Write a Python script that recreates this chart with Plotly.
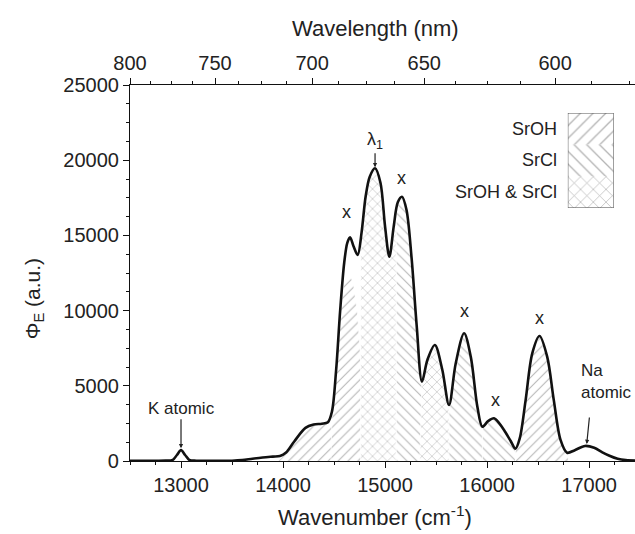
import plotly.graph_objects as go

# ---------------- data ----------------
# measured envelope spectrum
wavenumber = [12500, 12700, 12850, 12920, 12960, 13000, 13040, 13080, 13150, 13300,
              13500, 13600, 13700, 13800, 13900, 13970, 14030, 14110, 14220, 14300,
              14380, 14440, 14480, 14520, 14560, 14600, 14630, 14657, 14690, 14732,
              14770, 14810, 14850, 14902, 14955, 15000, 15042, 15085, 15125, 15166,
              15210, 15260, 15310, 15362, 15415, 15488, 15560, 15627, 15693, 15775,
              15840, 15905, 15954, 16010, 16068, 16120, 16166, 16230, 16278, 16320,
              16378, 16443, 16514, 16589, 16654, 16720, 16784, 16860, 16960, 17050,
              17130, 17200, 17280, 17360, 17450]
intensity = [20, 20, 30, 80, 400, 720, 400, 80, 20, 10,
             20, 60, 150, 230, 290, 330, 560, 1300, 2200, 2420,
             2480, 2580, 3300, 6000, 10000, 13200, 14500, 14870, 14300, 13700,
             15200, 17600, 18900, 19460, 18500, 15600, 13580, 15600, 17200, 17570,
             16700, 13500, 9000, 5270, 6720, 7710, 6100, 3720, 6500, 8490,
             6940, 3610, 2280, 2650, 2840, 2500, 2060, 1350, 820, 1500,
             4050, 7160, 8310, 6940, 4050, 1400, 550, 720, 1000, 880,
             580, 350, 150, 60, 30]

# hatched band regions (wavenumber, intensity outline), in drawing order
shoulder_wn = [13950, 14030, 14110, 14220, 14300, 14380, 14440, 14500, 14560, 14600]
shoulder_val = [0, 540, 1280, 2180, 2400, 2460, 2560, 2500, 1500, 0]
band1_wn = [14470, 14480, 14520, 14560, 14600, 14630, 14655, 14690, 14730, 14760, 14800, 14840]
band1_val = [0, 3200, 5900, 9800, 12000, 12350, 12400, 11800, 9800, 7000, 3000, 0]
band2_wn = [14760, 14760, 14810, 14850, 14902, 14955, 15000, 15042, 15085, 15110, 15110]
band2_val = [0, 14200, 17500, 18800, 19400, 18400, 15500, 13500, 15400, 16200, 0]
band3_wn = [15110, 15110, 15125, 15166, 15210, 15260, 15310, 15362, 15370]
band3_val = [0, 16200, 17150, 17520, 16650, 13450, 8950, 5250, 0]
band4_wn = [15340, 15362, 15415, 15488, 15560, 15627, 15640]
band4_val = [0, 5250, 6700, 7690, 6080, 3700, 0]
band5_wn = [15627, 15627, 15693, 15775, 15840, 15905, 15954, 15954]
band5_val = [0, 3700, 6480, 8470, 6920, 3600, 2270, 0]
band6_wn = [15954, 15954, 16010, 16068, 16120, 16166, 16230, 16278, 16278]
band6_val = [0, 2270, 2640, 2830, 2490, 2050, 1340, 810, 0]
band7_wn = [16278, 16278, 16320, 16378, 16443, 16514, 16589, 16654, 16720, 16784, 16800]
band7_val = [0, 810, 1500, 4050, 7160, 8310, 6940, 4050, 1400, 550, 0]

band_regions = [
    (shoulder_wn, shoulder_val, "/"),
    (band1_wn, band1_val, "/"),
    (band2_wn, band2_val, "x"),
    (band3_wn, band3_val, "\\"),
    (band4_wn, band4_val, "x"),
    (band5_wn, band5_val, "\\"),
    (band6_wn, band6_val, "\\"),
    (band7_wn, band7_val, "/"),
]

# peak markers
cross_wn = [14621, 15159, 15775, 16087, 16518]
cross_val = [16560, 18820, 9970, 4060, 9510]
lambda1_wn = 14902
lambda1_val = 19460
k_line_wn = 13000
k_line_val = 720
na_line_wn = 16975
na_line_val = 1000

# axis ticks
wn_ticks = [13000, 14000, 15000, 16000, 17000]
wl_ticks = [800, 750, 700, 650, 600]
wl_minor = [787.5, 775, 762.5, 737.5, 725, 712.5, 687.5, 675, 662.5,
            637.5, 625, 612.5, 587.5, 575]
y_ticks = [0, 5000, 10000, 15000, 20000, 25000]

legend_labels = ["SrOH & SrCl", "SrCl", "SrOH"]
legend_shapes = ["x", "\\", "/"]

# ---------------- figure ----------------
FONT = "Liberation Sans, Arial, sans-serif"
TXT = "#222222"
HATCH = "#6a6a6a"
HSIZE = 7
HSOLID = 0.15

fig = go.Figure()

for wn, val, shp in band_regions:
    fig.add_trace(go.Scatter(
        x=wn, y=val, mode="lines", fill="toself", fillcolor="white",
        fillpattern=dict(shape=shp, fgcolor=HATCH, bgcolor="white",
                         size=HSIZE, solidity=HSOLID),
        line=dict(width=0.8, color="rgba(255,255,255,0.9)"),
        showlegend=False, hoverinfo="skip"))

fig.add_trace(go.Scatter(
    x=wavenumber, y=intensity, mode="lines",
    line=dict(color="#111111", width=2.6, shape="spline", smoothing=0.9),
    showlegend=False, hoverinfo="skip"))

# dummy trace for top wavelength axis
fig.add_trace(go.Scatter(x=[wavenumber[0]], y=[0], xaxis="x2", yaxis="y",
                         mode="markers", marker=dict(opacity=0),
                         showlegend=False, hoverinfo="skip"))

# legend swatches on their own small axes
fig.add_trace(go.Bar(
    x=[0, 0, 0], y=[1, 1, 1], base=[0, 1, 2], width=1,
    xaxis="x3", yaxis="y3",
    marker=dict(color="white", line=dict(width=0),
                pattern=dict(shape=legend_shapes, fgcolor=HATCH, bgcolor="white",
                             size=9, solidity=HSOLID)),
    showlegend=False, hoverinfo="skip"))

axis_common = dict(showline=True, linecolor="#111111", linewidth=1.2,
                   ticks="outside", ticklen=6, tickwidth=1.1, tickcolor="#111111",
                   showgrid=False, zeroline=False,
                   tickfont=dict(family=FONT, size=20, color=TXT))

fig.update_layout(
    width=635, height=534,
    margin=dict(l=130, r=0, t=85, b=73),
    paper_bgcolor="white", plot_bgcolor="white",
    barmode="overlay",
    xaxis=dict(range=[12500, 17450], tickmode="array", tickvals=wn_ticks,
               ticktext=[str(t) for t in wn_ticks],
               minor=dict(dtick=250, tick0=12500, ticks="outside", ticklen=3,
                          tickcolor="#111111"),
               **axis_common),
    xaxis2=dict(range=[12500, 17450], overlaying="x", side="top", anchor="y",
                tickmode="array", tickvals=[1e7 / w for w in wl_ticks],
                ticktext=[str(w) for w in wl_ticks],
                minor=dict(tickmode="array", tickvals=[1e7 / w for w in wl_minor],
                           ticks="outside", ticklen=3, tickcolor="#111111"),
                **axis_common),
    yaxis=dict(range=[0, 25000], tickmode="array", tickvals=y_ticks,
               ticktext=[str(t) for t in y_ticks],
               minor=dict(dtick=1250, tick0=0, ticks="outside", ticklen=3,
                          tickcolor="#111111"),
               **axis_common),
    xaxis3=dict(domain=[0.867, 0.958], range=[-0.5, 0.5], anchor="y3", visible=False),
    yaxis3=dict(domain=[0.673, 0.9255], range=[0, 3], anchor="x3", visible=False),
)

fig.add_shape(type="rect", xref="x3", yref="y3", x0=-0.5, x1=0.5, y0=0, y1=3,
              line=dict(color="#555555", width=1))

for i, lab in enumerate(legend_labels):
    fig.add_annotation(xref="x3", yref="y3", x=-0.5, y=i + 0.5, text=lab,
                       showarrow=False, xanchor="right", yanchor="middle", xshift=-9,
                       font=dict(family=FONT, size=18, color=TXT))

# axis titles
fig.add_annotation(xref="paper", yref="paper", x=0.487, y=1.149, text="Wavelength (nm)",
                   showarrow=False, xanchor="center", yanchor="middle",
                   font=dict(family=FONT, size=22, color=TXT))
fig.add_annotation(xref="paper", yref="paper", x=0.485, y=-0.145,
                   text="Wavenumber (cm<sup>-1</sup>)",
                   showarrow=False, xanchor="center", yanchor="middle",
                   font=dict(family=FONT, size=22, color=TXT))
fig.add_annotation(xref="paper", yref="paper", x=-0.19, y=0.43,
                   text="Φ<sub>E</sub> (a.u.)", textangle=-90,
                   showarrow=False, xanchor="center", yanchor="middle",
                   font=dict(family=FONT, size=21, color=TXT))

# peak crosses
for cx, cy in zip(cross_wn, cross_val):
    fig.add_annotation(x=cx, y=cy, text="x", showarrow=False,
                       xanchor="center", yanchor="middle",
                       font=dict(family=FONT, size=18, color=TXT))

# lambda 1 label with arrow
fig.add_annotation(x=lambda1_wn, y=lambda1_val, text="λ<sub>1</sub>", showarrow=True,
                   ax=0, ay=-28, arrowhead=2, arrowsize=0.7, arrowwidth=1.2,
                   arrowcolor="#222222", standoff=1,
                   font=dict(family=FONT, size=18, color=TXT))

# K atomic
fig.add_annotation(x=k_line_wn, y=k_line_val, text="K atomic", showarrow=True,
                   ax=0, ay=-42, arrowhead=2, arrowsize=0.7, arrowwidth=1.2,
                   arrowcolor="#222222", standoff=2,
                   font=dict(family=FONT, size=17, color=TXT))

# Na atomic
fig.add_annotation(x=na_line_wn, y=na_line_val, text="", showarrow=True,
                   ax=3, ay=-30, arrowhead=2, arrowsize=0.7, arrowwidth=1.2,
                   arrowcolor="#222222", standoff=2)
fig.add_annotation(x=na_line_wn, y=na_line_val, text="Na<br>atomic", showarrow=False,
                   xanchor="left", yanchor="bottom", xshift=-8, yshift=42, align="left",
                   font=dict(family=FONT, size=17, color=TXT))

fig.write_html("out.html")
